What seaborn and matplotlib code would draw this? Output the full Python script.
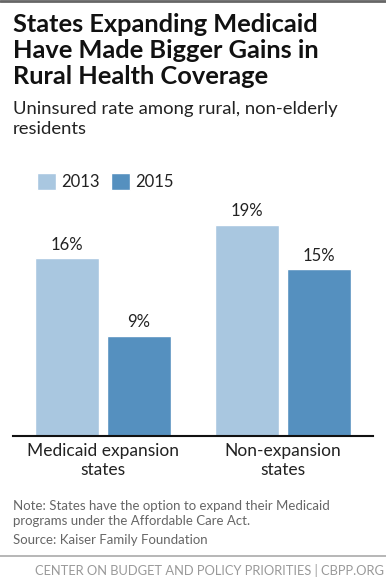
import pandas as pd
import matplotlib.pyplot as plt
import seaborn as sns
from matplotlib.lines import Line2D

# data
groups = ['Medicaid expansion\nstates', 'Non-expansion\nstates']
years = ['2013', '2015']
rate_2013 = [16, 19]
rate_2015 = [9, 15]
colors = ['#a9c7e0', '#5590bf']

df = pd.DataFrame({
    'group': groups * 2,
    'year': [years[0]] * 2 + [years[1]] * 2,
    'rate': rate_2013 + rate_2015,
})

sns.set_style('white')
plt.rcParams['font.family'] = ['Lato', 'DejaVu Sans']

W, H = 386, 586
fig = plt.figure(figsize=(W / 100, H / 100), dpi=100)

def fy(px):
    return 1 - px / H

# axes: x 13..373, baseline at 436, top at 200
ax = fig.add_axes([13 / W, fy(436), 360 / W, 236 / H])
sns.barplot(data=df, x='group', y='rate', hue='year', palette=colors,
            saturation=1, width=0.8, gap=0.1, ax=ax)
ax.set_xlim(-0.5, 1.5)
ax.set_ylim(0, 236 / 11.12)

for c in ax.containers:
    ax.bar_label(c, fmt='%d%%', padding=4, fontsize=12, color='#222222')

for s in ['top', 'right', 'left']:
    ax.spines[s].set_visible(False)
ax.spines['bottom'].set_color('#111111')
ax.spines['bottom'].set_linewidth(1.5)
ax.set_yticks([])
ax.set_xlabel('')
ax.set_ylabel('')
ax.tick_params(axis='x', length=0, pad=5, labelsize=12.5, labelcolor='#222222')

leg = ax.legend(loc='upper left', bbox_to_anchor=(37 / W, fy(173)),
                bbox_transform=fig.transFigure, ncol=2, frameon=False,
                fontsize=12, handlelength=1.15, handleheight=1.15,
                handletextpad=0.3, columnspacing=0.7, borderpad=0,
                borderaxespad=0)
for t in leg.get_texts():
    t.set_color('#222222')

# title + subtitle
title_lines = ['States Expanding Medicaid', 'Have Made Bigger Gains in',
               'Rural Health Coverage']
for i, line in enumerate(title_lines):
    fig.text(13 / W, fy(32 + i * 26), line, fontsize=18.3, fontweight='bold',
             color='#111111', va='baseline')
fig.text(13 / W, fy(114), 'Uninsured rate among rural, non-elderly',
         fontsize=13.3, color='#222222', va='baseline')
fig.text(13 / W, fy(134), 'residents', fontsize=13.3, color='#222222',
         va='baseline')

# notes
fig.text(13 / W, fy(510), 'Note: States have the option to expand their Medicaid',
         fontsize=9.5, color='#666666', va='baseline')
fig.text(13 / W, fy(525), 'programs under the Affordable Care Act.',
         fontsize=9.5, color='#666666', va='baseline')
fig.text(13 / W, fy(544), 'Source: Kaiser Family Foundation',
         fontsize=9.5, color='#666666', va='baseline')

# rules and footer
fig.add_artist(Line2D([0, 1], [fy(1), fy(1)], color='#666666', lw=2))
fig.add_artist(Line2D([0, 1], [fy(556), fy(556)], color='#aaaaaa', lw=1.2))
fig.text(384 / W, fy(575), 'CENTER ON BUDGET AND POLICY PRIORITIES | CBPP.ORG',
         fontsize=9.3, color='#999999', ha='right', va='baseline')

fig.savefig('out.png', dpi=100)
